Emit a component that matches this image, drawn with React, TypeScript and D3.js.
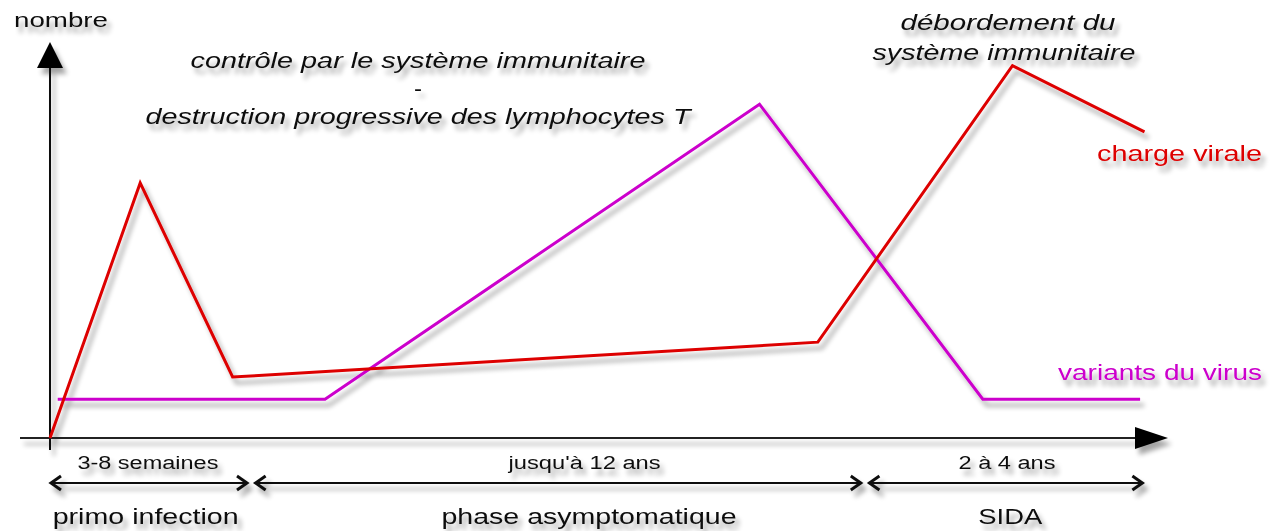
import React from "react";
import * as d3 from "d3";

// Data (time in arbitrary units 0..100, "nombre" in arbitrary units 0..100)
const chargeT = [0, 8.2, 16.6, 69.8, 87.5, 99.5];
const chargeV = [0, 64.4, 15.4, 24.2, 94, 77.3];
const variantsT = [0.7, 25, 64.5, 84.8, 99.1];
const variantsV = [9.8, 9.8, 84.3, 9.8, 9.8];

const phaseNames = ["primo infection", "phase asymptomatique", "SIDA"];
const phaseDurations = ["3-8 semaines", "jusqu'à 12 ans", "2 à 4 ans"];
const phaseStart = [0, 18.6, 74.4];
const phaseEnd = [18, 73.8, 99.4];
const phaseLabelAt = [8.7, 49, 87.3];
const durationLabelAt = [8.9, 48.6, 87];

const W = 1278;
const H = 531;
const FONT = "'Liberation Sans', Arial, Helvetica, sans-serif";

export default function App() {
  const x = d3.scaleLinear().domain([0, 100]).range([50, 1150]);
  const y = d3.scaleLinear().domain([0, 100]).range([438, 42]);

  const line = d3
    .line<[number, number]>()
    .x((d) => x(d[0]))
    .y((d) => y(d[1]));

  const charge = chargeT.map((t, i) => [t, chargeV[i]] as [number, number]);
  const variants = variantsT.map((t, i) => [t, variantsV[i]] as [number, number]);

  const x0 = x(0);
  const y0 = y(0);
  const arrowY = 483;

  const txt = (
    s: string,
    cx: number,
    by: number,
    size: number,
    len: number,
    opts: { italic?: boolean; fill?: string; anchor?: string } = {}
  ) => (
    <text
      x={cx}
      y={by}
      fontSize={size}
      fontFamily={FONT}
      fontStyle={opts.italic ? "italic" : "normal"}
      fill={opts.fill || "#111"}
      textAnchor={opts.anchor || "middle"}
      textLength={len}
      lengthAdjust="spacingAndGlyphs"
    >
      {s}
    </text>
  );

  return (
    <svg
      width={W}
      height={H}
      style={{ position: "fixed", left: 0, top: 0, background: "#fff" }}
    >
      <defs>
        <filter
          id="sh"
          filterUnits="userSpaceOnUse"
          x={0}
          y={0}
          width={W}
          height={H}
        >
          <feGaussianBlur in="SourceAlpha" stdDeviation="2.5" result="b" />
          <feOffset in="b" dx="4" dy="6" result="o" />
          <feComponentTransfer in="o" result="s">
            <feFuncA type="linear" slope="0.36" />
          </feComponentTransfer>
          <feMerge>
            <feMergeNode in="s" />
            <feMergeNode in="SourceGraphic" />
          </feMerge>
        </filter>
      </defs>
      <rect width={W} height={H} fill="#fff" />
      <g filter="url(#sh)">
        {/* axes */}
        <line x1={x0} y1={y0 + 12} x2={x0} y2={62} stroke="#111" strokeWidth={2} />
        <path
          d={`M${x0},${y(100)} L${x0 - 13},${y(100) + 26} L${x0 + 13},${y(100) + 26} Z`}
          fill="#000"
        />
        <line x1={20} y1={y0} x2={1140} y2={y0} stroke="#222" strokeWidth={2} />
        <path
          d={`M1168,${y0} L1135,${y0 - 11} L1135,${y0 + 11} Z`}
          fill="#000"
        />

        {/* series */}
        <path d={line(variants) || ""} fill="none" stroke="#cc00cc" strokeWidth={3} />
        <path d={line(charge) || ""} fill="none" stroke="#dd0000" strokeWidth={3} />

        {/* phase arrows */}
        {phaseStart.map((s, i) => {
          const a = x(s);
          const b = x(phaseEnd[i]);
          return (
            <g key={i} stroke="#111" fill="none">
              <line x1={a} y1={arrowY} x2={b} y2={arrowY} strokeWidth={2} />
              <path
                d={`M${a + 11},${arrowY - 7} L${a + 1},${arrowY} L${a + 11},${arrowY + 7}`}
                strokeWidth={3}
              />
              <path
                d={`M${b - 11},${arrowY - 7} L${b - 1},${arrowY} L${b - 11},${arrowY + 7}`}
                strokeWidth={3}
              />
            </g>
          );
        })}

        {/* texts */}
        {txt("nombre", 61, 27, 20, 94)}
        {txt("contrôle par le système immunitaire", 418, 68, 22, 455, { italic: true })}
        {txt("-", 418, 96, 22, 8)}
        {txt("destruction progressive des lymphocytes T", 418, 124, 22, 545, { italic: true })}
        {txt("débordement du", 1008, 30, 22, 215, { italic: true })}
        {txt("système immunitaire", 1004, 60, 22, 263, { italic: true })}
        {txt("charge virale", 1097, 161, 22, 165, { fill: "#dd0000", anchor: "start" })}
        {txt("variants du virus", 1058, 380, 22, 204, { fill: "#cc00cc", anchor: "start" })}

        {phaseDurations.map((d, i) => (
          <g key={"d" + i}>
            {txt(d, x(durationLabelAt[i]), 469, 18, [141, 152, 97][i])}
          </g>
        ))}
        {phaseNames.map((d, i) => (
          <g key={"n" + i}>
            {txt(d, x(phaseLabelAt[i]), 524, 22, [186, 295, 64][i])}
          </g>
        ))}
      </g>
    </svg>
  );
}
